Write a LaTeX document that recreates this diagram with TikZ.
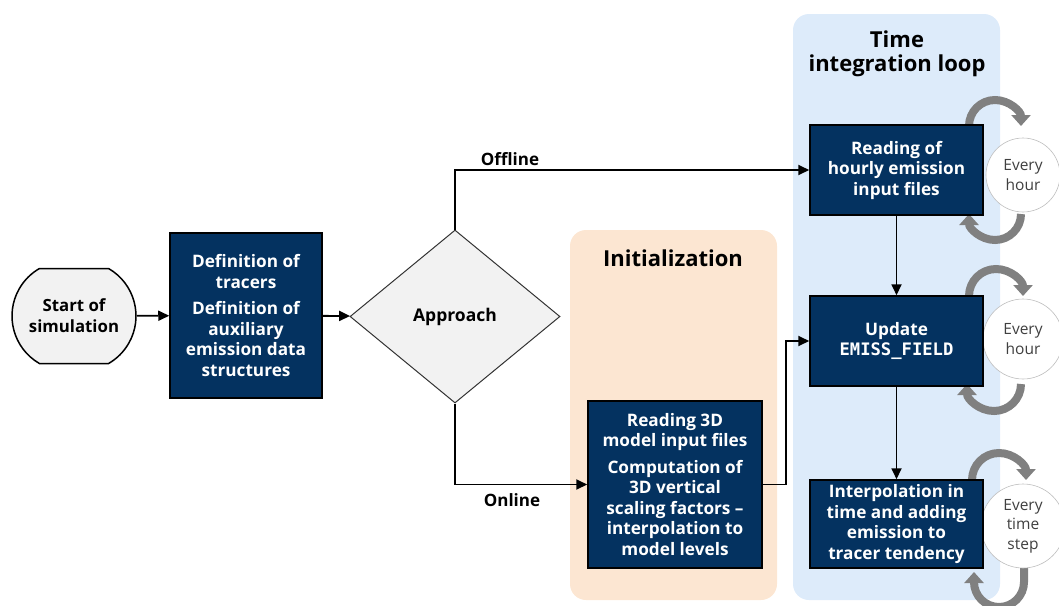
\documentclass[tikz,border=0pt]{standalone}
\usepackage{fontspec}
\setmainfont{Open Sans}
\setmonofont{DejaVu Sans Mono}
\usetikzlibrary{shapes.geometric,shapes.misc,arrows.meta}
\definecolor{navy}{RGB}{4,50,96}
\definecolor{peach}{RGB}{252,230,210}
\definecolor{paleblue}{RGB}{221,235,250}
\definecolor{lightfill}{RGB}{242,242,242}
\definecolor{loopgray}{RGB}{128,128,128}
\definecolor{circgray}{RGB}{190,190,190}
\tikzset{
  navybox/.style={draw=black, line width=1.5pt, fill=navy, text=white,
    font=\bfseries\fontsize{17.2}{20.5}\selectfont, align=center, inner sep=0pt},
  flow/.style={-{Triangle[length=11pt,width=10pt]}, line width=1.8pt},
  loopar/.style={line width=8pt, draw=loopgray, -{Triangle[length=11pt,width=19pt]}},
  every/.style={circle, draw=circgray, line width=0.6pt, fill=white, align=center,
    text=black!75, font=\fontsize{15.5}{19.5}\selectfont, inner sep=0pt},
  lbl/.style={font=\bfseries\fontsize{17}{20}\selectfont},
  ttl/.style={font=\bfseries\fontsize{22}{24}\selectfont, align=center}
}
\begin{document}
\begin{tikzpicture}[x=1pt,y=-1pt]
\useasboundingbox (0,0) rectangle (1059,605);
% panels
\fill[peach, rounded corners=16pt] (570,230) rectangle (777,600);
\fill[paleblue, rounded corners=16pt] (793,14) rectangle (1000,600);
\node[ttl] (inittitle) at (673,258) {Initialization};
\node[ttl] (timetitle) at (897,54) {Time\\integration loop};
% loop arrows
\draw[loopar] (969,126) arc[start angle=180, end angle=360, radius=26];
\draw[loopar] (1021,214) arc[start angle=0, end angle=180, radius=26];
\draw[loopar] (969,296) arc[start angle=180, end angle=360, radius=27];
\draw[loopar] (1021,384) arc[start angle=0, end angle=180, radius=27];
\draw[loopar] (972,480) arc[start angle=180, end angle=360, radius=27];
\draw[loopar] (1024,564) -- (1024,582) arc[start angle=0, end angle=180, radius=25] -- (974,572);
% circles
\node[every, minimum size=74pt] (c1) at (1023,175) {Every\\hour};
\node[every, minimum size=80pt] (c2) at (1023,339) {Every\\hour};
\node[every, minimum size=84pt] (c3) at (1023,526) {Every\\time\\step};
% nodes
\node[rounded rectangle, rounded rectangle arc length=120, draw=black, line width=1.5pt,
  fill=lightfill, minimum width=124pt, minimum height=95pt, inner sep=0pt, align=center,
  font=\bfseries\fontsize{16.8}{21}\selectfont] (start) at (74,316) {Start of\\simulation};
\node[navybox, minimum width=152pt, minimum height=165pt] (def) at (246,315.5)
  {Definition of\\tracers\\[6pt]Definition of\\auxiliary\\emission data\\structures};
\node[diamond, draw=black!80, line width=1pt, fill=lightfill, minimum width=210pt,
  minimum height=173pt, inner sep=0pt, font=\bfseries\fontsize{17.5}{20}\selectfont]
  (appr) at (455,316.5) {Approach};
\node[navybox, minimum width=174pt, minimum height=167pt] (init) at (675,484.5)
  {Reading 3D\\model input files\\[6pt]Computation of\\3D vertical\\scaling factors --\\interpolation to\\model levels};
\node[navybox, minimum width=173pt, minimum height=90pt] (read) at (896.5,170)
  {Reading of\\hourly emission\\input files};
\node[navybox, minimum width=173pt, minimum height=90pt] (upd) at (896.5,341)
  {Update\\{\ttfamily\bfseries EMISS\_FIELD}};
\node[navybox, minimum width=173pt, minimum height=88pt] (interp) at (896.5,524)
  {Interpolation in\\time and adding\\emission to\\tracer tendency};
% connectors
\draw[flow] (start) -- (def);
\draw[flow] (def) -- (appr);
\draw[flow] (appr.north) |- (read.west);
\draw[flow] (appr.south) |- (init.west);
\coordinate (bend) at (786,484.5);
\draw[flow] (init.east) -- (bend) |- (upd.west);
\draw[flow] (read) -- (upd);
\draw[flow] (upd) -- (interp);
\node[lbl] (offl) at (510,159) {Offline};
\node[lbl] (onl) at (512,500) {Online};
\end{tikzpicture}
\end{document}
